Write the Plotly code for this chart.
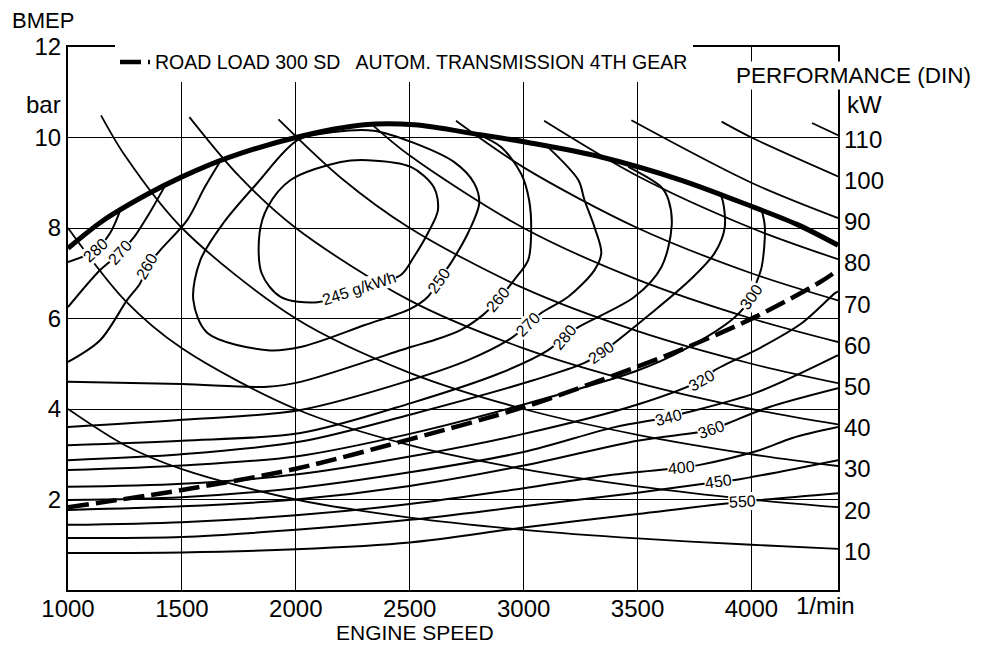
import plotly.graph_objects as go

FONT = "Liberation Sans"

# ---------------- axes ----------------
x_ticks = [1000, 1500, 2000, 2500, 3000, 3500, 4000]
y_ticks = [2, 4, 6, 8, 10, 12]
kw_ticks = [10, 20, 30, 40, 50, 60, 70, 80, 90, 100, 110]

# ---------------- full load & road load ----------------
full_rpm = [1000, 1150, 1350, 1500, 1700, 2000, 2300, 2520, 2810, 3030, 3340, 3690, 4010, 4200, 4380]
full_bmep = [7.55, 8.15, 8.75, 9.13, 9.55, 10.0, 10.28, 10.28, 10.06, 9.88, 9.57, 9.06, 8.46, 8.08, 7.62]

road_rpm = [1000, 1500, 2000, 2500, 3000, 3340, 3720, 4015, 4300, 4380]
road_bmep = [1.83, 2.21, 2.68, 3.33, 4.04, 4.64, 5.37, 6.03, 6.8, 7.07]

# ---------------- constant power lines (kW) ----------------
p10_rpm = [1000, 1250, 1500, 2000, 2500, 3000, 3500, 4000, 4380]
p10_bmep = [4.0, 3.2, 2.67, 2.0, 1.6, 1.33, 1.14, 1.0, 0.91]
p20_rpm = [1000, 1250, 1500, 2000, 2500, 3000, 3500, 4000, 4380]
p20_bmep = [8.0, 6.4, 5.34, 4.0, 3.2, 2.67, 2.29, 2.0, 1.83]
p30_rpm = [1145, 1250, 1500, 2000, 2500, 3000, 3500, 4000, 4380]
p30_bmep = [10.49, 9.6, 8.0, 6.0, 4.8, 4.0, 3.43, 3.0, 2.74]
p40_rpm = [1533, 1750, 2000, 2500, 3000, 3500, 4000, 4380]
p40_bmep = [10.45, 9.15, 8.0, 6.4, 5.34, 4.58, 4.0, 3.66]
p50_rpm = [1924, 2200, 2500, 3000, 3500, 4000, 4380]
p50_bmep = [10.4, 9.1, 8.0, 6.67, 5.72, 5.0, 4.57]
p60_rpm = [2325, 2500, 3000, 3500, 4000, 4380]
p60_bmep = [10.33, 9.6, 8.0, 6.86, 6.0, 5.48]
p70_rpm = [2703, 3000, 3500, 4000, 4380]
p70_bmep = [10.37, 9.34, 8.0, 7.0, 6.4]
p80_rpm = [3090, 3500, 4000, 4380]
p80_bmep = [10.37, 9.15, 8.0, 7.31]
p90_rpm = [3473, 4000, 4380]
p90_bmep = [10.38, 9.0, 8.22]
p100_rpm = [3869, 4000, 4380]
p100_bmep = [10.35, 10.0, 9.14]
p110_rpm = [4266, 4380]
p110_bmep = [10.32, 10.05]

# ---------------- BSFC contours (g/kWh) ----------------
c245_rpm = [1841, 1876, 1977, 2197, 2316, 2505, 2606, 2624, 2580, 2518, 2461, 2276, 2096, 1933, 1850, 1841]
c245_bmep = [7.89, 8.46, 9.06, 9.46, 9.5, 9.35, 8.9, 8.4, 7.89, 7.36, 6.96, 6.66, 6.36, 6.48, 7.0, 7.89]

c250_rpm = [1550, 1581, 1682, 1832, 2008, 2166, 2342, 2518, 2694, 2783, 2805, 2756, 2681, 2628, 2580, 2505, 2300, 2021, 1876, 1612, 1550]
c250_bmep = [6.41, 7.29, 8.11, 9.0, 9.94, 10.12, 10.15, 9.88, 9.46, 8.99, 8.55, 7.89, 7.23, 6.85, 6.48, 6.22, 5.85, 5.37, 5.3, 5.68, 6.41]

c260a_rpm = [1000, 1141, 1260, 1317, 1347, 1405, 1524, 1600, 1680]
c260a_bmep = [5.04, 5.52, 6.41, 6.78, 7.14, 7.51, 8.18, 8.9, 9.57]
c260b_rpm = [2800, 2901, 2989, 3024, 3033, 3020, 2958, 2888, 2822, 2725, 2606, 2505, 2021, 1876, 1500, 1000]
c260b_bmep = [10.07, 9.79, 9.2, 8.62, 7.89, 7.29, 6.85, 6.41, 6.08, 5.75, 5.52, 5.37, 4.6, 4.49, 4.55, 4.6]

c270a_rpm = [1000, 1141, 1229, 1287, 1360, 1430]
c270a_bmep = [6.25, 7.07, 7.45, 7.78, 8.35, 8.97]
c270b_rpm = [3100, 3240, 3267, 3311, 3341, 3311, 3196, 3077, 3020, 2932, 2756, 2505, 2021, 1500, 1000]
c270b_bmep = [9.82, 9.06, 8.62, 8.02, 7.45, 7.07, 6.48, 6.12, 5.86, 5.52, 5.08, 4.64, 3.98, 3.76, 3.6]

c280a_rpm = [1000, 1119, 1185, 1230]
c280a_bmep = [7.25, 7.5, 7.89, 8.4]
c280b_rpm = [3460, 3605, 3636, 3650, 3605, 3487, 3240, 3178, 3108, 2901, 2505, 2021, 1500, 1000]
c280b_bmep = [9.35, 8.9, 8.62, 8.05, 7.14, 6.48, 5.81, 5.59, 5.3, 4.8, 4.13, 3.47, 3.3, 3.2]

c290_rpm = [3850, 3869, 3883, 3839, 3730, 3561, 3341, 3267, 3046, 2505, 2021, 1500, 1000]
c290_bmep = [8.8, 8.68, 8.02, 7.45, 6.85, 6.12, 5.24, 5.02, 4.64, 3.88, 3.28, 3.0, 2.87]

c300_rpm = [4045, 4059, 4045, 4015, 4001, 3927, 3700, 3500, 3000, 2500, 2000, 1500, 1000]
c300_bmep = [8.4, 8.02, 7.14, 6.7, 6.48, 6.03, 5.3, 4.85, 4.1, 3.45, 2.95, 2.75, 2.65]

c320_rpm = [4380, 4367, 4222, 4045, 3839, 3781, 3500, 3000, 2500, 2000, 1500, 1000]
c320_bmep = [6.6, 6.56, 5.9, 5.37, 4.86, 4.64, 4.1, 3.45, 2.95, 2.55, 2.35, 2.28]

c340_rpm = [1000, 1500, 2000, 2500, 3000, 3400, 3636, 3707, 4015, 4380]
c340_bmep = [1.99, 2.05, 2.25, 2.6, 3.05, 3.6, 3.82, 3.91, 4.35, 5.19]

c360_rpm = [1000, 1500, 2000, 2500, 3000, 3500, 3825, 3900, 4076, 4380]
c360_bmep = [1.77, 1.85, 2.0, 2.3, 2.75, 3.3, 3.54, 3.69, 4.04, 4.46]

c400_rpm = [1000, 1500, 2000, 2500, 3000, 3400, 3693, 3768, 4035, 4180, 4380]
c400_bmep = [1.44, 1.5, 1.65, 1.9, 2.25, 2.55, 2.7, 2.76, 3.09, 3.36, 3.6]

c450_rpm = [1000, 1500, 2000, 2500, 3000, 3500, 3856, 3927, 4380]
c450_bmep = [1.15, 1.17, 1.33, 1.55, 1.85, 2.15, 2.39, 2.43, 2.87]

c550_rpm = [1000, 1500, 2000, 2500, 3000, 3500, 3960, 4380]
c550_bmep = [0.82, 0.83, 0.9, 1.05, 1.38, 1.68, 1.95, 2.14]

# contour labels: text, rpm, bmep, angle
lab_text = ["245 g/kWh", "250", "260", "270", "280", "290", "300", "320", "340", "360", "400", "450", "550", "280", "270", "260"]
lab_rpm = [2276, 2628, 2888, 3020, 3178, 3341, 4001, 3781, 3636, 3825, 3693, 3856, 3960, 1119, 1229, 1347]
lab_bmep = [6.66, 6.85, 6.41, 5.86, 5.59, 5.24, 6.48, 4.64, 3.82, 3.54, 2.7, 2.39, 1.95, 7.51, 7.45, 7.14]
lab_angle = [-18, -55, -50, -45, -50, -35, -55, -30, -15, -20, -5, -8, -3, -42, -48, -60]

fig = go.Figure()

def add_line(rpm, bmep, width=2.0, dash=None, name=None, legend=False):
    fig.add_trace(go.Scatter(
        x=rpm, y=bmep, mode="lines", name=name, showlegend=legend,
        line=dict(color="black", width=width, dash=dash, shape="spline", smoothing=0.9),
        hoverinfo="skip"))

for r, b in [(p10_rpm, p10_bmep), (p20_rpm, p20_bmep), (p30_rpm, p30_bmep), (p40_rpm, p40_bmep),
             (p50_rpm, p50_bmep), (p60_rpm, p60_bmep), (p70_rpm, p70_bmep), (p80_rpm, p80_bmep),
             (p90_rpm, p90_bmep), (p100_rpm, p100_bmep), (p110_rpm, p110_bmep)]:
    add_line(r, b, width=1.8)

for r, b in [(c245_rpm, c245_bmep), (c250_rpm, c250_bmep), (c260a_rpm, c260a_bmep), (c260b_rpm, c260b_bmep),
             (c270a_rpm, c270a_bmep), (c270b_rpm, c270b_bmep), (c280a_rpm, c280a_bmep), (c280b_rpm, c280b_bmep),
             (c290_rpm, c290_bmep), (c300_rpm, c300_bmep), (c320_rpm, c320_bmep), (c340_rpm, c340_bmep),
             (c360_rpm, c360_bmep), (c400_rpm, c400_bmep), (c450_rpm, c450_bmep), (c550_rpm, c550_bmep)]:
    add_line(r, b, width=2.0)

add_line(full_rpm, full_bmep, width=5)
add_line(road_rpm, road_bmep, width=4.5, dash="21px,7px",
         name="ROAD LOAD 300 SD   AUTOM. TRANSMISSION 4TH GEAR", legend=True)

# secondary (kW) axis carrier
fig.add_trace(go.Scatter(x=[None], y=[None], yaxis="y2", showlegend=False, hoverinfo="skip"))

annotations = []
for t, r, b, a in zip(lab_text, lab_rpm, lab_bmep, lab_angle):
    annotations.append(dict(x=r, y=b, xref="x", yref="y", text=t, showarrow=False,
                            xanchor="center", yanchor="middle",
                            textangle=a, bgcolor="white", borderpad=0,
                            font=dict(family=FONT, size=16, color="black")))

big = dict(family=FONT, size=24, color="black")
def ann(x, y, text, xref="paper", yref="paper", xanchor="center", font=big, bg=None):
    d = dict(x=x, y=y, xref=xref, yref=yref, text=text, showarrow=False,
             xanchor=xanchor, yanchor="middle", font=font)
    if bg:
        d["bgcolor"] = bg
    return d

annotations += [
    ann(-0.032, 1.0497, "BMEP", font=dict(family=FONT, size=22, color="black")),
    ann(-0.006, 10.74, "bar", yref="y", xanchor="right"),
    ann(1.0195, 0.948, "PERFORMANCE (DIN)", bg="white", font=dict(family=FONT, size=22.5, color="black")),
    ann(1.009, 0.895, "kW", xanchor="left"),
    ann(0.4506, -0.079, "ENGINE SPEED", font=dict(family=FONT, size=21, color="black")),
    ann(0.984, -0.028, "1/min"),
]

# the page body adds an 8px offset; the figure is sized so the plot area lands
# at x 68..838, y 47..590 of the 983x650 window
fig.update_layout(
    width=975, height=642,
    margin=dict(l=60, r=145, t=39, b=60, autoexpand=False),
    paper_bgcolor="white", plot_bgcolor="white",
    font=dict(family=FONT, color="black"),
    showlegend=True,
    legend=dict(x=0.061, y=0.972, xanchor="left", yanchor="middle", bgcolor="white",
                borderwidth=0, font=dict(family=FONT, size=19.5, color="black")),
    xaxis=dict(range=[1000, 4380], tickvals=x_ticks, ticktext=[str(v) for v in x_ticks],
               showgrid=True, gridcolor="black", gridwidth=1.3, zeroline=False,
               showline=True, linecolor="black", linewidth=2, mirror=True, ticks="",
               tickfont=big, ticklabelstandoff=-4, automargin=False),
    yaxis=dict(range=[0, 12], tickvals=y_ticks, ticktext=[str(v) for v in y_ticks],
               showgrid=True, gridcolor="black", gridwidth=1.3, zeroline=False,
               showline=True, linecolor="black", linewidth=2, mirror=True, ticks="",
               tickfont=big, automargin=False),
    yaxis2=dict(overlaying="y", side="right", range=[0.63, 132.4], tickvals=kw_ticks,
                ticktext=[str(v) for v in kw_ticks], showgrid=False, zeroline=False,
                showline=False, ticks="", tickfont=big, ticklabelstandoff=5, automargin=False),
    annotations=annotations,
)

fig.write_html("out.html")
